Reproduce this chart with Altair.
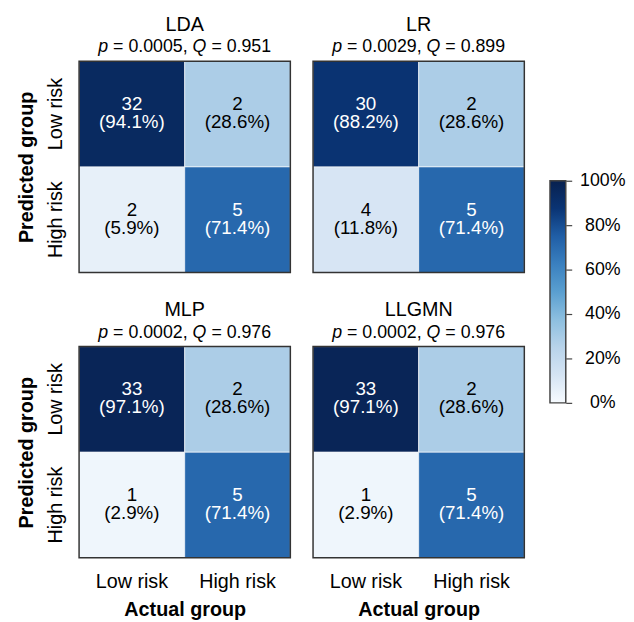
import altair as alt
import pandas as pd

FONT = "Liberation Sans"

models = ["LDA", "LR", "MLP", "LLGMN"]
p_values = ["0.0005", "0.0029", "0.0002", "0.0002"]
q_values = ["0.951", "0.899", "0.976", "0.976"]
groups = ["Low risk", "High risk"]

# cell order: (pred Low, act Low), (pred Low, act High), (pred High, act Low), (pred High, act High)
cell_predicted = ["Low risk", "Low risk", "High risk", "High risk"]
cell_actual = ["Low risk", "High risk", "Low risk", "High risk"]

lda_counts = [32, 2, 2, 5]
lda_pct = [94.1, 28.6, 5.9, 71.4]
lr_counts = [30, 2, 4, 5]
lr_pct = [88.2, 28.6, 11.8, 71.4]
mlp_counts = [33, 2, 1, 5]
mlp_pct = [97.1, 28.6, 2.9, 71.4]
llgmn_counts = [33, 2, 1, 5]
llgmn_pct = [97.1, 28.6, 2.9, 71.4]

colorbar_ticks = [0, 20, 40, 60, 80, 100]
ramp_stops = [0, 12.5, 25, 37.5, 50, 62.5, 75, 87.5, 100]
ramp_colors = ["#f7fbff", "#d5e4f3", "#b8d3ea", "#8dbfdf", "#5a9fd0",
               "#3a80bf", "#205ea6", "#0a3474", "#08214f"]

W = 214
H = 214

# Arial-like advance widths (em) for subtitle layout
ADV = {"0": .556, "1": .556, "2": .556, "3": .556, "4": .556, "5": .556,
       "6": .556, "7": .556, "8": .556, "9": .556, ".": .278, ",": .278,
       " ": .278, "=": .584, "p": .556, "Q": .778}


def tw(s, size):
    return sum(ADV.get(c, .556) for c in s) * size


def one():
    return alt.Chart(alt.Data(values=[{"k": 1}]))


COLOR_SCALE = alt.Scale(domain=ramp_stops, range=ramp_colors)


def panel(name, counts, pcts, p, q, show_x, show_y):
    df = pd.DataFrame({"actual": cell_actual, "predicted": cell_predicted,
                       "count": counts, "pct": pcts})
    base = alt.Chart(df).transform_calculate(
        label="'(' + format(datum.pct, '.1f') + '%)'")
    xax = alt.Axis(labelFontSize=20, labelPadding=14, ticks=False, domain=False,
                   labelAngle=0, title="Actual group", titleFontSize=20,
                   titleFontWeight="bold", titlePadding=8) if show_x else None
    yax = alt.Axis(labelFontSize=20, labelPadding=14, ticks=False, domain=False,
                   labelAngle=-90, labelAlign="center", labelBaseline="bottom",
                   title="Predicted group", titleFontSize=20,
                   titleFontWeight="bold", titlePadding=9) if show_y else None
    x = alt.X("actual:N", sort=groups, axis=xax,
              scale=alt.Scale(paddingInner=0, paddingOuter=0))
    y = alt.Y("predicted:N", sort=groups, axis=yax,
              scale=alt.Scale(paddingInner=0, paddingOuter=0))
    color = alt.Color("pct:Q", scale=COLOR_SCALE, legend=None)
    tcol = alt.condition("datum.pct > 50", alt.value("white"), alt.value("black"))
    rect = base.mark_rect(stroke="white", strokeWidth=0.6).encode(x=x, y=y, color=color)
    cnt = base.mark_text(font=FONT, fontSize=19, baseline="alphabetic", dy=-4).encode(
        x=x, y=y, text="count:N", color=tcol)
    pc = base.mark_text(font=FONT, fontSize=19, baseline="alphabetic", dy=14).encode(
        x=x, y=y, text="label:N", color=tcol)
    border = one().mark_rect(filled=False, stroke="#333", strokeWidth=1.5).encode(
        x=alt.value(0), x2=alt.value(W), y=alt.value(0), y2=alt.value(H))
    title = one().mark_text(text=name, font=FONT, fontSize=20, align="center",
                            baseline="alphabetic", color="black").encode(
        x=alt.value(W / 2), y=alt.value(-31))
    # subtitle with italic p and Q
    s = 18
    parts = [("p", "italic"), ("= " + p + ",", "normal"), ("Q", "italic"), ("= " + q, "normal")]
    full = "p = " + p + ", Q = " + q
    x0 = W / 2 - tw(full, s) / 2
    offs = [0,
            tw("p ", s),
            tw("p = " + p + ", ", s),
            tw("p = " + p + ", Q ", s)]
    subs = []
    for (txt, style), o in zip(parts, offs):
        subs.append(one().mark_text(text=txt, font=FONT, fontSize=s, fontStyle=style,
                                    align="left", baseline="alphabetic",
                                    color="black").encode(
            x=alt.value(x0 + o), y=alt.value(-9)))
    return alt.layer(rect, cnt, pc, border, title, *subs).properties(width=W, height=H)


p1 = panel(models[0], lda_counts, lda_pct, p_values[0], q_values[0], False, True)
p2 = panel(models[1], lr_counts, lr_pct, p_values[1], q_values[1], False, False)
p3 = panel(models[2], mlp_counts, mlp_pct, p_values[2], q_values[2], True, True)
p4 = panel(models[3], llgmn_counts, llgmn_pct, p_values[3], q_values[3], True, False)

top = alt.hconcat(p1, p2, spacing=21)
bottom = alt.hconcat(p3, p4, spacing=21)
grid = alt.vconcat(top, bottom, spacing=27)

# colorbar panel: 100 -> 121px, 0 -> 346px below the panel's top edge
CB_H = 420
px_per_unit = 225 / 100.0
cb_top = 100 + 121 / px_per_unit
cb_bot = cb_top - CB_H / px_per_unit
cb_df = pd.DataFrame({"lo": [colorbar_ticks[0]], "hi": [colorbar_ticks[-1]]})
grad = alt.Gradient(
    gradient="linear",
    stops=[alt.GradientStop(color=c, offset=s / 100.0) for s, c in zip(ramp_stops, ramp_colors)],
    x1=0, x2=0, y1=1, y2=0)
cbar = alt.Chart(cb_df).mark_rect(fill=grad, stroke="#444", strokeWidth=1.5).encode(
    y=alt.Y("lo:Q", scale=alt.Scale(domain=[cb_bot, cb_top], nice=False, zero=False),
            axis=alt.Axis(orient="right", values=colorbar_ticks,
                          labelExpr="datum.value + '%'", ticks=True, tickSize=6,
                          tickColor="#444", tickWidth=1.2, domain=False, grid=False,
                          labelFontSize=18, labelAlign="center", labelBaseline="middle",
                          labelPadding=31, labelFlush=False, title=None)),
    y2="hi:Q",
).properties(width=16, height=CB_H)

chart = alt.hconcat(grid, cbar, spacing=24).properties(
    padding={"left": 8, "top": 3, "right": 0, "bottom": 0}
).configure_view(stroke=None).configure_axis(
    labelFont=FONT, titleFont=FONT, labelColor="black", titleColor="black", grid=False)

chart.save("out.html", embed_options={"renderer": "svg", "actions": False})
